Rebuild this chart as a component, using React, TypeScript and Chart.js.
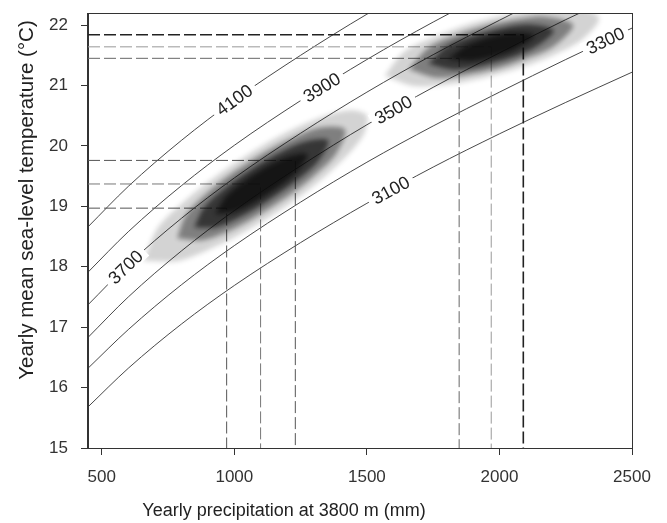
import React, { useEffect, useRef } from "react";
import { Chart, registerables } from "chart.js";

// ---------------- data ----------------
const xMin = 448;
const xMax = 2500;
const yMin = 15;
const yMax = 22.2;
const xTicks = [500, 1000, 1500, 2000, 2500];
const yTicks = [15, 16, 17, 18, 19, 20, 21, 22];
const xTitle = "Yearly precipitation at 3800 m (mm)";
const yTitle = "Yearly mean sea-level temperature (°C)";

// precipitation grid on which the elevation contours were read
const precipGrid = [448, 600, 800, 1000, 1250, 1500, 1750, 2000, 2250, 2500];
const contour4100 = [18.66, 19.33, 20.09, 20.76, 21.5, 22.18, 22.8];
const contour3900 = [17.91, 18.58, 19.34, 20.01, 20.75, 21.43, 22.05, 22.62];
const contour3700 = [17.37, 18.04, 18.8, 19.47, 20.21, 20.89, 21.51, 22.08, 22.63];
const contour3500 = [16.83, 17.5, 18.26, 18.93, 19.67, 20.35, 20.97, 21.54, 22.09, 22.6];
const contour3300 = [16.32, 16.96, 17.7, 18.35, 19.07, 19.73, 20.33, 20.89, 21.43, 21.95];
const contour3100 = [15.68, 16.32, 17.05, 17.69, 18.4, 19.05, 19.65, 20.2, 20.72, 21.22];
const contourNames = ["4100", "3900", "3700", "3500", "3300", "3100"];
const contourLabelAt = [1000, 1330, 590, 1600, 2400, 1590];

// 10 / 50 / 90 % quantile guides of the two clouds
const quantileP = [971, 1099, 1230, 1848, 1969, 2090];
const quantileT = [18.97, 19.37, 19.76, 21.45, 21.64, 21.84];

// density envelopes of the lower point cloud, outer -> core
const lowerCloud1: [number, number][] = [
  [658, 18.1], [712, 18.65], [822, 19.12], [941, 19.53], [1067, 19.9], [1199, 20.23],
  [1339, 20.49], [1438, 20.59], [1499, 20.51], [1491, 20.22], [1431, 19.87], [1319, 19.41],
  [1198, 19.01], [1070, 18.66], [936, 18.35], [793, 18.1],
];
const lowerCloud2: [number, number][] = [
  [784, 18.47], [817, 18.85], [898, 19.22], [987, 19.53], [1114, 19.89], [1215, 20.12],
  [1323, 20.3], [1417, 20.27], [1385, 19.88], [1304, 19.52], [1215, 19.21], [1088, 18.85],
  [987, 18.61], [879, 18.44],
];
const lowerCloud3: [number, number][] = [
  [848, 18.65], [887, 18.99], [971, 19.33], [1064, 19.62], [1161, 19.87], [1266, 20.07],
  [1354, 20.09], [1315, 19.74], [1230, 19.41], [1138, 19.12], [1040, 18.86], [936, 18.66],
];
const lowerCloud4: [number, number][] = [
  [927, 18.87], [971, 19.18], [1076, 19.54], [1192, 19.81], [1275, 19.86], [1231, 19.55],
  [1125, 19.2], [1009, 18.92],
];
// density envelopes of the upper point cloud
const upperCloud1: [number, number][] = [
  [1567, 21.16], [1641, 21.56], [1762, 21.82], [1886, 22.02], [2014, 22.16], [2145, 22.26],
  [2280, 22.29], [2376, 22.12], [2312, 21.76], [2192, 21.48], [2068, 21.28], [1941, 21.13],
  [1810, 21.02], [1676, 20.99],
];
const upperCloud2: [number, number][] = [
  [1658, 21.27], [1734, 21.63], [1839, 21.84], [1947, 21.99], [2057, 22.09], [2172, 22.14],
  [2278, 22.0], [2202, 21.64], [2097, 21.44], [1990, 21.28], [1879, 21.18], [1764, 21.13],
];
const upperCloud3: [number, number][] = [
  [1731, 21.36], [1810, 21.67], [1953, 21.89], [2101, 22.01], [2205, 21.91], [2126, 21.61],
  [1984, 21.38], [1835, 21.26],
];
const upperCloud4: [number, number][] = [
  [1804, 21.44], [1887, 21.69], [2032, 21.87], [2132, 21.83], [2050, 21.58], [1904, 21.41],
];

// ---------------- styles ----------------
const SANS = '"Liberation Sans", Arial, Helvetica, sans-serif';
const quantileColors = ["#555", "#777", "#555", "#666", "#999", "#222"];
const quantileWidths = [1, 1, 1, 1, 1, 1.6];
const cloudAlphas = [0.18, 0.42, 0.62, 0.72];

const contourSeries = [contour4100, contour3900, contour3700, contour3500, contour3300, contour3100];

function interp(xs: number[], ys: number[], x: number) {
  const n = ys.length;
  for (let i = 0; i < n - 1; i++) {
    if (x >= xs[i] && x <= xs[i + 1]) {
      const f = (x - xs[i]) / (xs[i + 1] - xs[i]);
      return ys[i] + f * (ys[i + 1] - ys[i]);
    }
  }
  return ys[n - 1];
}

const cloudBlurPlugin = {
  id: "cloudBlur",
  beforeDatasetDraw(chart: any, args: any) {
    const ds = chart.data.datasets[args.index];
    if (ds && ds.isCloud) {
      chart.ctx.save();
      chart.ctx.filter = "blur(2.5px)";
    }
  },
  afterDatasetDraw(chart: any, args: any) {
    const ds = chart.data.datasets[args.index];
    if (ds && ds.isCloud) chart.ctx.restore();
  },
};
// registered before the filler so that its blur wraps the fill
Chart.register(cloudBlurPlugin);
Chart.register(...registerables);

const labelPlugin = {
  id: "contourLabels",
  afterDatasetsDraw(chart: any) {
    const { ctx, scales } = chart;
    const xs = scales.x;
    const ys = scales.y;
    ctx.save();
    ctx.font = `18px ${SANS}`;
    contourSeries.forEach((vals, i) => {
      const grid = precipGrid.slice(0, vals.length);
      const p = contourLabelAt[i];
      const px = xs.getPixelForValue(p);
      const py = ys.getPixelForValue(interp(grid, vals, p));
      const ax = xs.getPixelForValue(p - 40);
      const ay = ys.getPixelForValue(interp(grid, vals, p - 40));
      const bx = xs.getPixelForValue(p + 40);
      const by = ys.getPixelForValue(interp(grid, vals, p + 40));
      const ang = Math.atan2(by - ay, bx - ax);
      const w = ctx.measureText(contourNames[i]).width;
      ctx.save();
      ctx.translate(px, py);
      ctx.rotate(ang);
      ctx.fillStyle = "#ffffff";
      ctx.fillRect(-w / 2 - 5, -8, w + 10, 16);
      ctx.fillStyle = "#222";
      ctx.textAlign = "center";
      ctx.textBaseline = "middle";
      ctx.fillText(contourNames[i], 0, 1);
      ctx.restore();
    });
    ctx.restore();
  },
};

const framePlugin = {
  id: "frameAndTitles",
  afterDraw(chart: any) {
    const { ctx, chartArea } = chart;
    ctx.save();
    ctx.strokeStyle = "#333";
    ctx.lineWidth = 1;
    ctx.strokeRect(chartArea.left - 0.5, chartArea.top + 0.5, chartArea.right - chartArea.left + 1, chartArea.bottom - chartArea.top);
    ctx.fillStyle = "#222";
    ctx.textAlign = "center";
    ctx.textBaseline = "middle";
    ctx.font = `18px ${SANS}`;
    ctx.fillText(xTitle, chartArea.left + 196, chartArea.bottom + 63);
    ctx.translate(chartArea.left - 61, chartArea.top + 187);
    ctx.rotate(-Math.PI / 2);
    ctx.font = `20.5px ${SANS}`;
    ctx.fillText(yTitle, 0, 0);
    ctx.restore();
  },
};

function cloudDataset(poly: [number, number][], alpha: number) {
  const pts = poly.map(([x, y]) => ({ x, y }));
  pts.push({ x: poly[0][0], y: poly[0][1] });
  return {
    type: "line",
    data: pts,
    isCloud: true,
    borderWidth: 0,
    borderColor: "rgba(0,0,0,0)",
    backgroundColor: `rgba(10,10,10,${alpha})`,
    pointRadius: 0,
    tension: 0.3,
    fill: "shape",
    order: 1,
  };
}

export default function App() {
  const canvasRef = useRef<HTMLCanvasElement | null>(null);

  useEffect(() => {
    if (!canvasRef.current) return;

    const contourDatasets = contourSeries.map((vals, i) => ({
      type: "line",
      label: contourNames[i],
      data: vals.map((t, j) => ({ x: precipGrid[j], y: t })),
      borderColor: "#333",
      borderWidth: 0.9,
      pointRadius: 0,
      cubicInterpolationMode: "monotone",
      fill: false,
      order: 10,
    }));

    const quantileDatasets = quantileP.map((p, i) => ({
      type: "line",
      data: [
        { x: xMin, y: quantileT[i] },
        { x: p, y: quantileT[i] },
        { x: p, y: yMin },
      ],
      borderColor: quantileColors[i],
      borderWidth: quantileWidths[i],
      borderDash: [12, 4],
      pointRadius: 0,
      tension: 0,
      fill: false,
      order: 5,
    }));

    const clouds = [lowerCloud1, lowerCloud2, lowerCloud3, lowerCloud4]
      .map((c, i) => cloudDataset(c, cloudAlphas[i]))
      .concat([upperCloud1, upperCloud2, upperCloud3, upperCloud4].map((c, i) => cloudDataset(c, cloudAlphas[i])));

    const chart = new Chart(canvasRef.current, {
      type: "line",
      data: { datasets: [...contourDatasets, ...quantileDatasets, ...clouds] as any },
      options: {
        animation: false,
        responsive: true,
        maintainAspectRatio: false,
        layout: { padding: { left: 0, right: 35, top: 13, bottom: 0 } },
        plugins: { legend: { display: false }, tooltip: { enabled: false } },
        scales: {
          x: {
            type: "linear",
            min: xMin,
            max: xMax,
            afterBuildTicks: (s: any) => {
              s.ticks = xTicks.map((v) => ({ value: v }));
            },
            afterFit: (s: any) => {
              s.height = 75;
              s.paddingLeft = 0;
              s.paddingRight = 0;
            },
            grid: { drawOnChartArea: false, tickLength: 7, color: "#333", tickWidth: 1 },
            border: { color: "#333", width: 1 },
            ticks: {
              font: { family: SANS, size: 17 },
              color: "#333",
              padding: 12,
              maxRotation: 0,
              autoSkip: false,
              callback: (v: any) => String(v),
            },
            title: { display: false },
          },
          y: {
            type: "linear",
            min: yMin,
            max: yMax,
            afterBuildTicks: (s: any) => {
              s.ticks = yTicks.map((v) => ({ value: v }));
            },
            afterFit: (s: any) => {
              s.width = 88;
              s.paddingTop = 0;
              s.paddingBottom = 0;
            },
            grid: { drawOnChartArea: false, tickLength: 7, color: "#333", tickWidth: 1 },
            border: { color: "#333", width: 1 },
            ticks: {
              font: { family: SANS, size: 17 },
              color: "#333",
              padding: 13,
              autoSkip: false,
              callback: (v: any) => String(v),
            },
            title: { display: false },
          },
        },
      } as any,
      plugins: [labelPlugin, framePlugin],
    });

    return () => chart.destroy();
  }, []);

  return (
    <div style={{ position: "fixed", left: 0, top: 0, width: 667, height: 523, background: "#fff" }}>
      <canvas ref={canvasRef} />
    </div>
  );
}
